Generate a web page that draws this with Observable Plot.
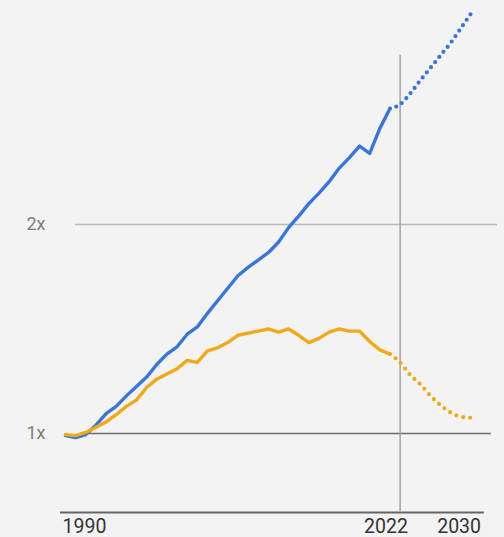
<!DOCTYPE html>
<html>
<head>
<meta charset="utf-8">
<script src="https://cdn.jsdelivr.net/npm/d3@7"></script>
<script src="https://cdn.jsdelivr.net/npm/@observablehq/plot@0.6"></script>
<style>
  html, body { margin: 0; padding: 0; background: #f3f3f3; }
  #chart svg { display: block; }
</style>
</head>
<body>
<div id="chart"></div>
<script>
// Historical years (solid) and projection years (dotted)
const years = [1990,1991,1992,1993,1994,1995,1996,1997,1998,1999,2000,2001,2002,2003,2004,2005,2006,2007,2008,2009,2010,2011,2012,2013,2014,2015,2016,2017,2018,2019,2020,2021,2022];
const blueSeries = [0.99,0.98,0.995,1.04,1.095,1.13,1.18,1.225,1.27,1.33,1.38,1.415,1.475,1.51,1.575,1.635,1.695,1.755,1.795,1.83,1.865,1.915,1.985,2.04,2.10,2.15,2.205,2.27,2.32,2.375,2.34,2.46,2.555];
const orangeSeries = [0.995,0.99,1.005,1.03,1.055,1.09,1.13,1.16,1.22,1.26,1.285,1.31,1.35,1.34,1.395,1.41,1.435,1.47,1.48,1.49,1.50,1.485,1.50,1.47,1.435,1.455,1.485,1.50,1.49,1.49,1.44,1.40,1.38];
const projYears = [2022,2023,2024,2025,2026,2027,2028,2029,2030];
const blueProjection = [2.555,2.575,2.627,2.69,2.75,2.81,2.87,2.94,3.01];
const orangeProjection = [1.38,1.34,1.28,1.235,1.18,1.135,1.10,1.08,1.075];
const yTickValues = [1, 2];
const yTickLabels = ["1x", "2x"];
const xTickValues = [1990, 2022, 2030];
const markerYear = 2023;
const baseValue = 0.622;

const blue = "#3b76d6";
const orange = "#f0a91c";

const solidBlue = years.map((year, i) => ({year, value: blueSeries[i]}));
const solidOrange = years.map((year, i) => ({year, value: orangeSeries[i]}));
const projBlue = projYears.map((year, i) => ({year, value: blueProjection[i]}));
const projOrange = projYears.map((year, i) => ({year, value: orangeProjection[i]}));
const yTicks = yTickValues.map((v, i) => ({v, label: yTickLabels[i]}));

const chart = Plot.plot({
  width: 504,
  height: 537,
  marginLeft: 65,
  marginRight: 33.4,
  marginTop: 15,
  marginBottom: 25,
  style: {background: "#f3f3f3", fontFamily: "Roboto, 'Noto Sans', sans-serif"},
  x: {domain: [1990, 2030], axis: null},
  y: {domain: [baseValue, 3.0], axis: null},
  marks: [
    Plot.ruleY([2], {x1: 1991, x2: 2032.6, stroke: "#b9b9b9", strokeWidth: 1.5}),
    Plot.ruleY([1], {x1: 1991.5, x2: 2032, stroke: "#6c6c6c", strokeWidth: 1.5}),
    Plot.ruleY([baseValue], {x1: 1989.5, x2: 2031.3, stroke: "#666", strokeWidth: 2}),
    Plot.ruleX([markerYear], {y1: baseValue, y2: 2.81, stroke: "#a3a3a3", strokeWidth: 1.5}),
    Plot.line(solidBlue, {x: "year", y: "value", stroke: blue, strokeWidth: 3.4, strokeLinejoin: "round", strokeLinecap: "round"}),
    Plot.line(projBlue, {x: "year", y: "value", stroke: blue, strokeWidth: 4.2, strokeLinecap: "round", strokeDasharray: "0 6.6", curve: "monotone-x"}),
    Plot.line(solidOrange, {x: "year", y: "value", stroke: orange, strokeWidth: 3.4, strokeLinejoin: "round", strokeLinecap: "round"}),
    Plot.line(projOrange, {x: "year", y: "value", stroke: orange, strokeWidth: 4.2, strokeLinecap: "round", strokeDasharray: "0 7", curve: "monotone-x"}),
    Plot.text(yTicks, {y: "v", text: "label", frameAnchor: "left", textAnchor: "end", dx: -20, fontSize: 18, fill: "#7d7d7d"}),
    Plot.text(xTickValues.filter(d => d === 1990), {x: d => d, text: d => String(d), frameAnchor: "bottom", textAnchor: "start", lineAnchor: "middle", dx: -3, dy: 14, fontSize: 19.5, fill: "#333"}),
    Plot.text(xTickValues.filter(d => d === 2022), {x: d => d, text: d => String(d), frameAnchor: "bottom", textAnchor: "middle", lineAnchor: "middle", dx: -4, dy: 14, fontSize: 19.5, fill: "#333"}),
    Plot.text(xTickValues.filter(d => d === 2030), {x: d => d, text: d => String(d), frameAnchor: "bottom", textAnchor: "middle", lineAnchor: "middle", dx: -12, dy: 14, fontSize: 19.5, fill: "#333"})
  ]
});
document.getElementById("chart").append(chart);
</script>
</body>
</html>
